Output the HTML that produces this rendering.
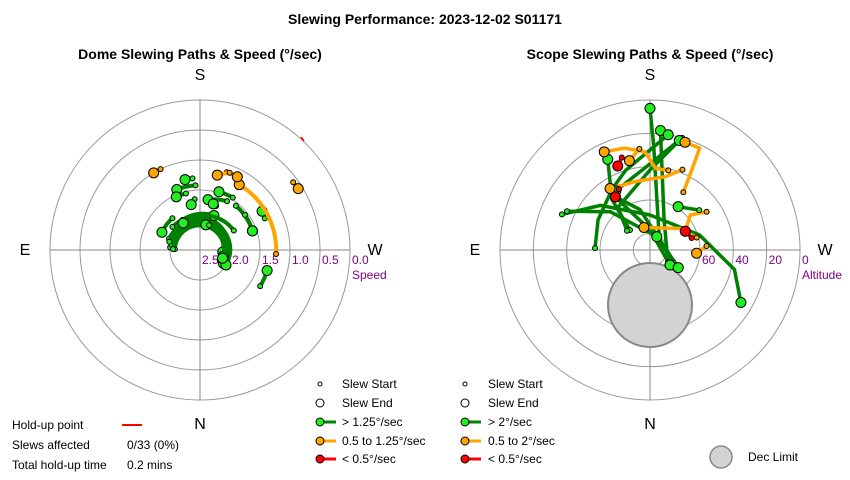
<!DOCTYPE html>
<html><head><meta charset="utf-8"><style>
body{margin:0;background:#fff;}
svg{display:block;font-family:"Liberation Sans",Arial,sans-serif;}
</style></head><body>
<svg id="c" width="850" height="480" viewBox="0 0 850 480">
<rect width="850" height="480" fill="#fff"/>
<text x="425" y="24" text-anchor="middle" font-size="14" font-weight="bold">Slewing Performance: 2023-12-02 S01171</text>
<text x="200" y="59" text-anchor="middle" font-size="14" font-weight="bold">Dome Slewing Paths &amp; Speed (°/sec)</text>
<text x="650" y="59" text-anchor="middle" font-size="14" font-weight="bold">Scope Slewing Paths &amp; Speed (°/sec)</text>
<g id="dome"></g>
<g id="scope"></g>
<g font-size="12">
 <circle cx="320" cy="384" r="2" fill="#fff" stroke="#000"/><text x="342" y="388">Slew Start</text>
 <circle cx="320" cy="403" r="4" fill="#fff" stroke="#000"/><text x="342" y="407">Slew End</text>
 <line x1="320" y1="422" x2="336" y2="422" stroke="#008000" stroke-width="3"/><circle cx="320" cy="422" r="4" fill="#22ee22" stroke="#000"/><text x="342" y="426">&gt; 1.25°/sec</text>
 <line x1="320" y1="441" x2="336" y2="441" stroke="#ffa500" stroke-width="3"/><circle cx="320" cy="441" r="4" fill="#ffa500" stroke="#000"/><text x="342" y="445">0.5 to 1.25°/sec</text>
 <line x1="320" y1="459" x2="336" y2="459" stroke="#ff0000" stroke-width="3"/><circle cx="320" cy="459" r="4" fill="#ff0000" stroke="#000"/><text x="342" y="463">&lt; 0.5°/sec</text>
</g>
<g font-size="12">
 <circle cx="465" cy="384" r="2" fill="#fff" stroke="#000"/><text x="488" y="388">Slew Start</text>
 <circle cx="465" cy="403" r="4" fill="#fff" stroke="#000"/><text x="488" y="407">Slew End</text>
 <line x1="465" y1="422" x2="481" y2="422" stroke="#008000" stroke-width="3"/><circle cx="465" cy="422" r="4" fill="#22ee22" stroke="#000"/><text x="488" y="426">&gt; 2°/sec</text>
 <line x1="465" y1="441" x2="481" y2="441" stroke="#ffa500" stroke-width="3"/><circle cx="465" cy="441" r="4" fill="#ffa500" stroke="#000"/><text x="488" y="445">0.5 to 2°/sec</text>
 <line x1="465" y1="459" x2="481" y2="459" stroke="#ff0000" stroke-width="3"/><circle cx="465" cy="459" r="4" fill="#ff0000" stroke="#000"/><text x="488" y="463">&lt; 0.5°/sec</text>
</g>
<g font-size="12">
 <circle cx="721" cy="457" r="11" fill="#d3d3d3" stroke="#888" stroke-width="1.5"/><text x="748" y="461">Dec Limit</text>
</g>
<g font-size="12">
 <text x="12" y="429">Hold-up point</text><line x1="122" y1="425" x2="142" y2="425" stroke="#ff0000" stroke-width="2"/>
 <text x="12" y="449">Slews affected</text><text x="127" y="449">0/33 (0%)</text>
 <text x="12" y="469">Total hold-up time</text><text x="127" y="469">0.2 mins</text>
</g>
</svg>
<script>
// Dome slews: [startAz, endAz, startSpeed, endSpeed, cls]
const domeSlews = [
 [174,168,1.30,1.30,'g'],[176,159,1.42,1.42,'g'],[166,156,1.53,1.53,'g'],
 [174,169,1.65,1.73,'g'],[209,189,1.57,1.65,'g'],[212,198,1.47,1.48,'g'],
 [200,196,1.72,1.70,'g'],[219,250,1.55,1.57,'g'],[139,115,1.80,1.80,'g'],
 [95,298,2.00,2.05,'g'],[110,275,1.95,2.12,'g'],[130,300,1.90,2.05,'g'],
 [100,290,2.02,2.08,'g'],[105,300,1.97,2.0,'g'],[92,285,2.08,2.1,'g'],
 [150,202,1.92,1.88,'g'],[92,193,2.05,2.07,'g'],[200,290,2.06,2.10,'g'],
 [240,148,1.85,1.97,'g'],[232,250,1.55,1.57,'g'],[244,238,1.30,1.28,'g'],[301,287,1.33,1.33,'g'],
 [273,211,1.23,1.23,'o'],[199,207,1.13,1.13,'o'],[201,193,1.12,1.22,'o'],
 [154,149,1.00,1.00,'o'],[234,238,0.58,0.57,'o']
];
const domeTicks = ['2.5','2.0','1.5','1.0','0.5','0.0'];
// Scope slews: lists of [az, alt]
const scopeSlews = [
 {c:'g',p:[[298,74],[225,82],[188,60],[182,27],[180,5]]},
 {c:'g',p:[[304,77],[205,70],[185,18]]},
 {c:'g',p:[[112,33],[132,50],[180,69],[253,59],[283,38],[300,27]]},
 {c:'g',p:[[92,57],[120,54],[148,47],[163,40],[189,20]]},
 {c:'g',p:[[135,73],[143,52],[155,30]]},
 {c:'g',p:[[145,46],[180,78],[307,75]]},
 {c:'g',p:[[147,52],[166,65],[302,70]]},
 {c:'g',p:[[196,20],[183,36],[150,49]]},
 {c:'g',p:[[130,72],[143,58],[180,42],[195,22]]},
 {c:'g',p:[[115,35],[134,57],[207,81]]},
 {c:'g',p:[[231,52],[213,59]]},
 {c:'o',p:[[193,41],[184,41],[177,31],[166,27],[155,25]]},
 {c:'o',p:[[210,50],[208,39],[206,22],[198,22]]},
 {c:'o',p:[[202,38],[192,45],[168,48],[147,46]]},
 {c:'o',p:[[255,61],[234,68],[165,76]]},
 {c:'o',p:[[236,49],[229,58],[242,66]]},
 {c:'o',p:[[174,29],[167,35]]},
 {c:'o',p:[[266,56],[274,62]]},
 {c:'r',p:[[163,32],[159,36]]},
 {c:'r',p:[[153,49],[147,52]]},
 {c:'r',p:[[254,64],[242,66]]}
];
const altTicks = ['60','40','20','0'];
const NS='http://www.w3.org/2000/svg';
const col={g:['#008000','#22ee22'],o:['#ffa500','#ffa500'],r:['#ff0000','#ff0000']};
function mk(p,t,a){const e=document.createElementNS(NS,t);for(const k in a)e.setAttribute(k,a[k]);p.appendChild(e);return e;}
function xy(cx,cy,az,r){const a=az*Math.PI/180;return [cx-r*Math.sin(a),cy+r*Math.cos(a)];}
function frame(g,cx,cy,radii){
 radii.forEach(r=>{const c=mk(g,'circle',{cx:cx,cy:cy,r:r,fill:'none',stroke:'#999','stroke-width':1});
  
  });
 mk(g,'line',{x1:cx-150,y1:cy,x2:cx+150,y2:cy,stroke:'#888'});
 mk(g,'line',{x1:cx,y1:cy-150,x2:cx,y2:cy+150,stroke:'#888'});
 [['S',cx,cy-170],['N',cx,cy+179],['E',cx-175,cy+5],['W',cx+175,cy+5]].forEach(d=>{
  const t=mk(g,'text',{x:d[1],y:d[2],'text-anchor':'middle','font-size':16});t.textContent=d[0];
  
  });
}
function markers(g,a,b,c){
 const s=mk(g,'circle',{cx:a[0],cy:a[1],r:2.5,fill:col[c][1],stroke:'#000','stroke-width':1});
 
 
 const e=mk(g,'circle',{cx:b[0],cy:b[1],r:5,fill:col[c][1],stroke:'#000','stroke-width':1});
 
 
}
// Dome
(function(){
 const g=document.getElementById('dome'),cx=200,cy=250;
 frame(g,cx,cy,[30,60,90,120,150]);
 const rs=s=>(2.5-s)*60;
 domeTicks.forEach((t,i)=>{const e=mk(g,'text',{x:cx+i*30+2,y:cy+14,'font-size':12,fill:'#800080'});e.textContent=t;
  
  });
 const sl=mk(g,'text',{x:352,y:279,'font-size':12,fill:'#800080'});sl.textContent='Speed';
 
 
 domeSlews.forEach(d=>{
  const pts=[];for(let i=0;i<=40;i++){const f=i/40;pts.push(xy(cx,cy,d[0]+(d[1]-d[0])*f,rs(d[2]+(d[3]-d[2])*f)));}
  const l=mk(g,'polyline',{points:pts.map(p=>p.join(',')).join(' '),fill:'none',stroke:col[d[4]][0],'stroke-width':4,'stroke-linecap':'round'});
  
  
  markers(g,pts[0],pts[40],d[4]);
 });
 const h=mk(g,'line',{x1:301,y1:137,x2:304,y2:141,stroke:'#ff0000','stroke-width':1.5});
 
 
})();
// Scope
(function(){
 const g=document.getElementById('scope'),cx=650,cy=250;
 const ra=a=>(90-a)*150/90;
 frame(g,cx,cy,[ra(80),ra(60),ra(40),ra(20),ra(0)]);
 altTicks.forEach((t,i)=>{const e=mk(g,'text',{x:cx+ra(+t)+2,y:cy+14,'font-size':12,fill:'#800080'});e.textContent=t;
  
  });
 const al=mk(g,'text',{x:802,y:279,'font-size':12,fill:'#800080'});al.textContent='Altitude';
 
 
 const dl=mk(g,'circle',{cx:cx,cy:305,r:42,fill:'#d3d3d3',stroke:'#888','stroke-width':2});
 
 
 scopeSlews.forEach(s=>{
  const pts=s.p.map(q=>xy(cx,cy,q[0],ra(q[1])));
  const l=mk(g,'polyline',{points:pts.map(p=>p.join(',')).join(' '),fill:'none',stroke:col[s.c][0],'stroke-width':3.5,'stroke-linejoin':'round','stroke-linecap':'round'});
  
  
 });
 scopeSlews.forEach(s=>{
  const pts=s.p.map(q=>xy(cx,cy,q[0],ra(q[1])));
  markers(g,pts[0],pts[pts.length-1],s.c);
 });
})();
</script>
</body></html>
